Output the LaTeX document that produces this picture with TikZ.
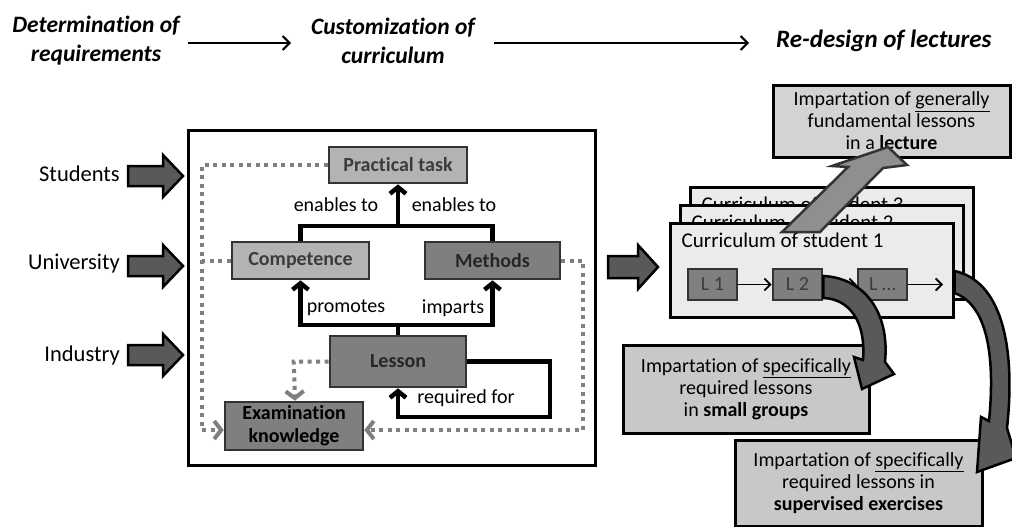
\documentclass[tikz,border=0pt]{standalone}
\usepackage{fontspec}
\setmainfont{Carlito}[Ligatures=NoCommon]
\usetikzlibrary{arrows.meta,calc}
\definecolor{bord}{HTML}{333333}
\definecolor{lgray}{HTML}{B3B3B3}
\definecolor{mgray}{HTML}{7F7F7F}
\definecolor{dgray}{HTML}{595959}
\definecolor{dotgray}{HTML}{7F7F7F}
\definecolor{curfill}{HTML}{EBEBEB}
\definecolor{impfill}{HTML}{D3D3D3}
\definecolor{impfillb}{HTML}{C8C8C8}
\definecolor{txtgray}{HTML}{3C3C3C}
\definecolor{uparrfill}{HTML}{8F8F8F}
\begin{document}
\begin{tikzpicture}[x=1pt,y=-1pt,
  titlefont/.style={font=\fontsize{23.5}{29}\selectfont\bfseries\itshape},
  sidefont/.style={font=\fontsize{22.5}{26}\selectfont},
  lblfont/.style={font=\fontsize{20}{22}\selectfont},
  curfont/.style={font=\fontsize{21}{24}\selectfont},
  cbox/.style={draw=bord, line width=2.6pt, inner sep=0pt, align=center,
               font=\fontsize{20}{23}\selectfont\bfseries},
  curbox/.style={draw=black, line width=3pt, fill=curfill, minimum width=283, minimum height=94, inner sep=0pt},
  lbox/.style={draw=bord, line width=2.6pt, fill=mgray, text=txtgray, minimum width=49, minimum height=31, inner sep=0pt,
               font=\fontsize{20}{22}\selectfont},
  impbox/.style={draw=black, line width=3pt, inner sep=0pt, align=center, font=\fontsize{20}{22}\selectfont},
  thinarr/.style={draw=black, line width=2pt, -{Straight Barb[length=7pt,width=14pt]}},
  larr/.style={draw=black, line width=1.8pt, -{Straight Barb[length=6pt,width=12pt]}},
  blk/.style={draw=black, line width=4.5pt},
  blktip/.style={blk, -{Straight Barb[length=6.5pt,width=16pt]}},
  dots/.style={draw=dotgray, line width=4pt, dash pattern=on 4pt off 4.5pt},
  dottip/.style={dots, -{Straight Barb[length=7pt,width=18pt]}},
  barrow/.style={draw=black, line width=2.5pt, fill=dgray, line join=miter},
  carrow/.style={draw=black, line width=2.5pt, fill=dgray, line join=miter},
  uparrow/.style={draw=bord, line width=2.5pt, fill=uparrfill, line join=miter}
]
\useasboundingbox (0,0) rectangle (1012,527);

% titles
\node[titlefont, align=center, inner sep=0pt] (t1) at (96,41) {Determination of\\requirements};
\node[titlefont, align=center, inner sep=0pt] (t2) at (393,41) {Customization of\\curriculum};
\node[titlefont, font=\fontsize{25}{29}\selectfont\bfseries\itshape, anchor=west, inner sep=0pt] (t3) at (776,41) {Re-design of lectures};
\coordinate (a1s) at (188,43);
\coordinate (a1e) at (291,43);
\coordinate (a2s) at (494,43);
\coordinate (a2e) at (749,43);
\draw[thinarr] (a1s) -- (a1e);
\draw[thinarr] (a2s) -- (a2e);

% side labels and block arrows
\node[sidefont, anchor=east, inner sep=0pt] (stu) at (120,174) {Students};
\node[sidefont, anchor=east, inner sep=0pt] (uni) at (120,264) {University};
\node[sidefont, anchor=east, inner sep=0pt] (ind) at (120,355) {Industry};
\foreach \yc in {176,266,355}{
  \draw[barrow] (128,\yc-10) -- ++(35,0) -- ++(0,-11) -- ++(20,21) -- ++(-20,21) -- ++(0,-11) -- ++(-35,0) -- cycle;
}

% main box
\node[draw=black, line width=3pt, fill=white, minimum width=407, minimum height=335, inner sep=0pt] (main) at (391.5,297.5) {};

% boxes
\node[cbox, fill=lgray, text=txtgray, minimum width=138, minimum height=36] (prac) at (398,165) {Practical task};
\node[cbox, fill=lgray, text=txtgray, minimum width=137, minimum height=37] (comp) at (300.5,260.5) {Competence};
\node[cbox, fill=mgray, text=black!85, minimum width=135, minimum height=37] (meth) at (492.5,260.5) {Methods};
\node[cbox, fill=mgray, text=black!85, minimum width=136, minimum height=51] (less) at (398,361.5) {Lesson};
\node[cbox, fill=mgray, text=black, minimum width=138, minimum height=48] (exam) at (294,426) {Examination\\knowledge};

% dotted connectors
\coordinate (dl) at (202,430);
\coordinate (dr) at (583,430);
\draw[dottip] (prac.west) -- (prac.west -| dl) -- (dl) -- (exam.west |- dl);
\draw[dots] (comp.west) -- (comp.west -| dl);
\draw[dottip] (meth.east) -- (meth.east -| dr) -- (dr) -- (exam.east |- dr);
\draw[dottip] (less.west) -- ++(-35,0) -- (exam.north -| 295,0);

% solid connectors
\coordinate (bartop) at (398,226);
\coordinate (barbot) at (398,325);
\draw[blk] (comp.north) -- (comp.north |- bartop) -- (meth.north |- bartop) -- (meth.north);
\draw[blktip] (bartop) -- (prac.south);
\draw[blk, {Straight Barb[length=6.5pt,width=16pt]}-{Straight Barb[length=6.5pt,width=16pt]}]
  (comp.south) -- (comp.south |- barbot) -- (meth.south |- barbot) -- (meth.south);
\draw[blk] (less.north) -- (barbot);
\draw[blktip] (less.east) -- (550,361.5) -- (550,417) -- (less.south |- 0,417) -- (less.south);

% labels
\node[lblfont, inner sep=0pt] (en1) at (336,205) {enables to};
\node[lblfont, inner sep=0pt] (en2) at (454,205) {enables to};
\node[lblfont, inner sep=0pt] (pro) at (346,308) {promotes};
\node[lblfont, inner sep=0pt] (imp) at (453,308) {imparts};
\node[lblfont, inner sep=0pt] (req) at (466,398) {required for};

% middle block arrow
\draw[barrow] (608,256) -- ++(30,0) -- ++(0,-11) -- ++(20,22) -- ++(-20,22) -- ++(0,-11) -- ++(-30,0) -- cycle;

% top impartation box
\node[impbox, fill=impfill, minimum width=237, minimum height=72] (lect) at (891.5,121)
  {Impartation of \underline{generally}\\fundamental lessons\\in a \textbf{lecture}};

% curriculum stack
\node[curbox] (cur3) at (831.5,234) {};
\node[curfont, anchor=west, inner sep=0pt] (c3t) at ($(cur3.north west)+(13,19)$) {Curriculum of student 3};
\node[curbox] (cur2) at (821.5,252) {};
\node[curfont, anchor=west, inner sep=0pt] (c2t) at ($(cur2.north west)+(13,19)$) {Curriculum of student 2};
\node[curbox] (cur1) at (811.5,270) {};
\node[curfont, anchor=west, inner sep=0pt] (c1t) at ($(cur1.north west)+(13,19)$) {Curriculum of student 1};
\node[lbox] (l1) at (712.5,284.5) {L 1};
\node[lbox] (l2) at (797.5,284.5) {L 2};
\node[lbox] (l3) at (882.5,284.5) {L …};
\coordinate (lend) at (943,284.5);
\draw[larr] (l1) -- (l2);
\draw[larr] (l2) -- (l3);
\draw[larr] (l3) -- (lend);

% up arrow to lecture
\draw[uparrow] (782,232) -- (820,232) -- (883,168) -- (907,165) -- (888,147) -- (832,166) -- (848,167) -- cycle;

% lower impartation boxes
\node[impbox, fill=impfillb, minimum width=246, minimum height=88] (small) at (746,389)
  {Impartation of \underline{specifically}\\required lessons\\in \textbf{small groups}};
\node[impbox, fill=impfillb, minimum width=247, minimum height=86] (sup) at (858.5,483)
  {Impartation of \underline{specifically}\\required lessons in\\\textbf{supervised exercises}};

% curved arrows
\draw[carrow] (l2.east |- 0,276) .. controls (864,278) and (890,312) .. (885,362) -- (894,374) -- (862,389) -- (854,357) -- (863,360) .. controls (866,322) and (850,299) .. (l2.east |- 0,298) -- cycle;
\draw[carrow] (cur1.east |- 0,271) .. controls (1001,281) and (1016,345) .. (1007,428) -- (1016,458) -- (977,472) -- (981,417) -- (989,421) .. controls (996,350) and (985,304) .. (cur1.east |- 0,293) -- cycle;
\end{tikzpicture}
\end{document}
